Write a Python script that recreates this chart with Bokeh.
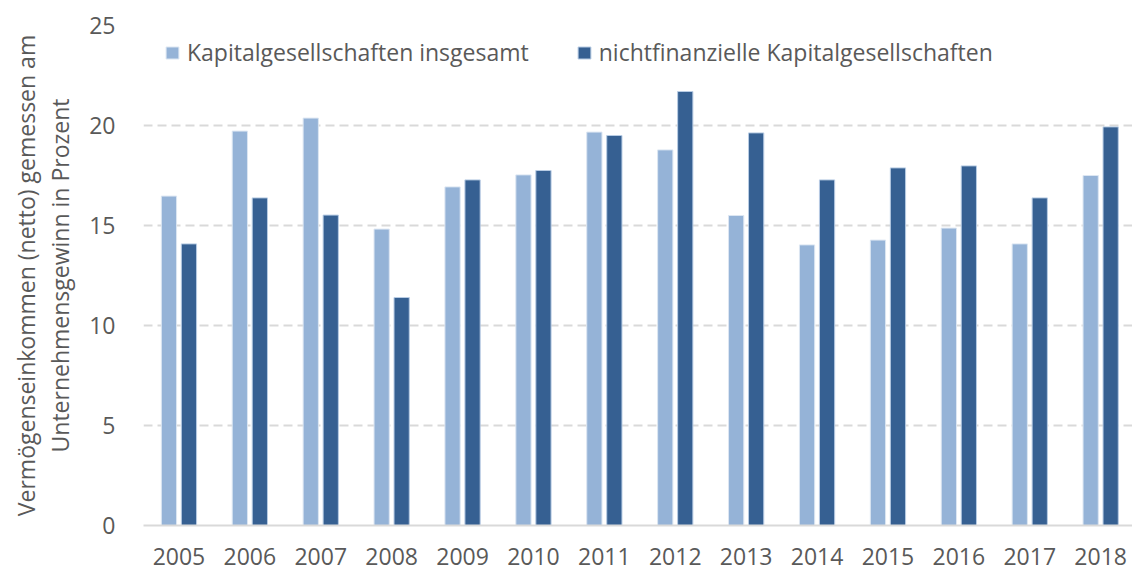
import numpy as np
from bokeh.plotting import figure
from bokeh.models import Range1d, FixedTicker, Legend, LegendItem, Title, ColumnDataSource
from bokeh.transform import dodge
from bokeh.embed import file_html
from bokeh.resources import INLINE

years = ["2005", "2006", "2007", "2008", "2009", "2010", "2011",
         "2012", "2013", "2014", "2015", "2016", "2017", "2018"]
insgesamt = [16.47, 19.72, 20.37, 14.82, 16.93, 17.53, 19.67,
             18.78, 15.50, 14.03, 14.27, 14.87, 14.08, 17.50]
nichtfinanziell = [14.08, 16.38, 15.52, 11.40, 17.28, 17.75, 19.50,
                   21.70, 19.63, 17.28, 17.88, 17.98, 16.38, 19.93]
y_ticks = [0, 5, 10, 15, 20, 25]
series_labels = ["Kapitalgesellschaften insgesamt",
                 "nichtfinanzielle Kapitalgesellschaften"]
ytitle_1 = "Vermögenseinkommen (netto) gemessen am"
ytitle_2 = "Unternehmensgewinn in Prozent"

FONT = "Open Sans"
TXT = "#595959"
FS = "23px"

x = list(range(len(years)))
src = ColumnDataSource(dict(x=x, a=insgesamt, b=nichtfinanziell))

p = figure(width=1132, height=572, output_backend="svg", toolbar_location=None,
           x_range=Range1d(-0.5, 13.449), y_range=Range1d(0, 25),
           min_border_left=143, min_border_right=0, min_border_top=25,
           min_border_bottom=47)
p.outline_line_color = None
p.background_fill_color = "white"

r1 = p.vbar(x=dodge("x", -0.141), top="a", width=0.215, source=src,
            fill_color="#95B3D7", line_color="#dce6f2", line_width=1)
r2 = p.vbar(x=dodge("x", 0.141), top="b", width=0.215, source=src,
            fill_color="#366092", line_color="#b8cce4", line_width=1)

# x axis
p.xaxis.ticker = FixedTicker(ticks=x)
p.xaxis.major_label_overrides = {i: yr for i, yr in enumerate(years)}
p.xaxis.axis_line_color = "#d9d9d9"
p.xaxis.axis_line_width = 2
p.xaxis.major_tick_line_color = None
p.xaxis.minor_tick_line_color = None
p.xaxis.major_tick_out = 0
p.xaxis.major_label_standoff = 22
p.xaxis.major_label_text_font = FONT
p.xaxis.major_label_text_font_size = FS
p.xaxis.major_label_text_color = TXT

# y axis
p.yaxis.ticker = FixedTicker(ticks=y_ticks)
p.yaxis.axis_line_color = None
p.yaxis.major_tick_line_color = None
p.yaxis.minor_tick_line_color = None
p.yaxis.major_tick_out = 0
p.yaxis.major_label_standoff = 28
p.yaxis.major_label_text_font = FONT
p.yaxis.major_label_text_font_size = FS
p.yaxis.major_label_text_color = TXT
p.yaxis.axis_label = ytitle_2
p.yaxis.axis_label_text_font = FONT
p.yaxis.axis_label_text_font_size = FS
p.yaxis.axis_label_text_font_style = "normal"
p.yaxis.axis_label_text_color = TXT
p.yaxis.axis_label_standoff = 10

t1 = Title(text=ytitle_1, align="center", text_font=FONT, text_font_size=FS,
           text_font_style="normal", text_color=TXT, standoff=0)
p.add_layout(t1, "left")

# grid
p.xgrid.visible = False
p.ygrid.grid_line_color = "#d9d9d9"
p.ygrid.grid_line_width = 2
p.ygrid.grid_line_dash = "9 5"

legend = Legend(items=[LegendItem(label=series_labels[0], renderers=[r1]),
                       LegendItem(label=series_labels[1], renderers=[r2])],
                orientation="horizontal", location=(21, 457),
                padding=0, margin=0, spacing=47,
                glyph_width=16, glyph_height=15, label_standoff=7,
                label_text_font=FONT, label_text_font_size=FS,
                label_text_color=TXT,
                background_fill_alpha=0, border_line_alpha=0)
p.add_layout(legend, "center")

open("out.html", "w").write(file_html(p, INLINE))
